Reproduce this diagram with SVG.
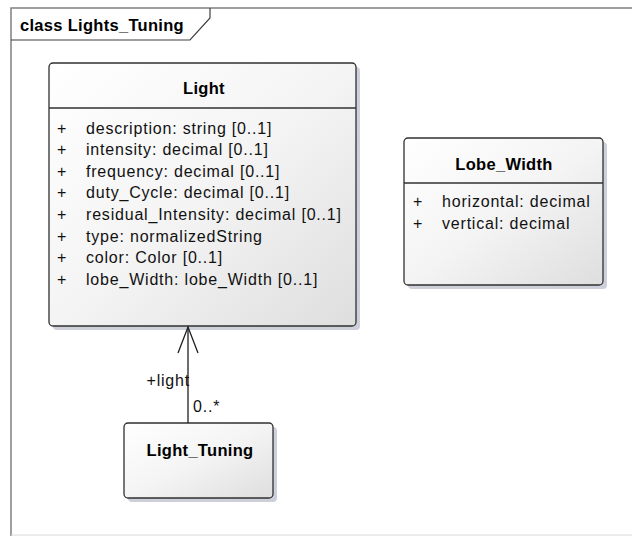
<svg xmlns="http://www.w3.org/2000/svg" width="632" height="536" viewBox="0 0 632 536">
<defs>
<linearGradient id="g" x1="0" y1="0" x2="1" y2="1">
<stop offset="0" stop-color="#ffffff"/>
<stop offset="0.5" stop-color="#f4f4f4"/>
<stop offset="1" stop-color="#dedede"/>
</linearGradient>
<marker id="open" markerWidth="30" markerHeight="24" refX="27" refY="11" orient="auto" markerUnits="userSpaceOnUse">
<path d="M1,1 L27,11 L1,21" fill="none" stroke="#202020" stroke-width="1.3"/>
</marker>
</defs>
<style>
.box{fill:url(#g);stroke:#303030;stroke-width:1.3}
.sh{fill:#b8bccc;opacity:0.7}
.sep{stroke:#303030;stroke-width:1.3}
.t{font-family:"Liberation Sans",Arial,sans-serif;font-size:16.5px;letter-spacing:0.3px;font-weight:bold;fill:#000}
.a{font-family:"Liberation Sans",Arial,sans-serif;font-size:16px;letter-spacing:0.8px;fill:#111}
.frame{fill:none;stroke:#808080;stroke-width:1.5}
</style>
<rect width="632" height="536" fill="#fff"/>
<g id="frame">
<path class="frame" d="M11,536 L11,8 L632,8"/>
<line x1="11" y1="535" x2="632" y2="535" stroke="#d8d8d8" stroke-width="1"/>
<path d="M11,40 L190,40 L210,18 L210,8" fill="none" stroke="#404040" stroke-width="1.2"/>
<text x="20" y="31" class="t">class Lights_Tuning</text>
</g>
<g id="Light">
<rect class="sh" x="53" y="67" width="307" height="263" rx="4"/>
<rect class="box" x="49" y="63" width="307" height="263" rx="4"/>
<line class="sep" x1="49" y1="108" x2="356" y2="108"/>
<text x="204" y="94" class="t" text-anchor="middle">Light</text>
<g class="a">
<text x="57" y="134">+</text><text x="86" y="134">description: string [0..1]</text>
<text x="57" y="155">+</text><text x="86" y="155">intensity: decimal [0..1]</text>
<text x="57" y="177">+</text><text x="86" y="177">frequency: decimal [0..1]</text>
<text x="57" y="198">+</text><text x="86" y="198">duty_Cycle: decimal [0..1]</text>
<text x="57" y="220">+</text><text x="86" y="220">residual_Intensity: decimal [0..1]</text>
<text x="57" y="242">+</text><text x="86" y="242">type: normalizedString</text>
<text x="57" y="263">+</text><text x="86" y="263">color: Color [0..1]</text>
<text x="57" y="285">+</text><text x="86" y="285">lobe_Width: lobe_Width [0..1]</text>
</g>
</g>
<g id="Lobe_Width">
<rect class="sh" x="408" y="142" width="199" height="147" rx="4"/>
<rect class="box" x="404" y="138" width="199" height="147" rx="4"/>
<line class="sep" x1="404" y1="183" x2="603" y2="183"/>
<text x="504" y="170" class="t" text-anchor="middle">Lobe_Width</text>
<g class="a">
<text x="413" y="207">+</text><text x="442" y="207">horizontal: decimal</text>
<text x="413" y="229">+</text><text x="442" y="229">vertical: decimal</text>
</g>
</g>
<g id="Light_Tuning">
<rect class="sh" x="128" y="427" width="149" height="75" rx="4"/>
<rect class="box" x="124" y="423" width="149" height="75" rx="4"/>
<text x="200" y="456" class="t" text-anchor="middle">Light_Tuning</text>
</g>
<g id="connectors">
<line x1="188" y1="423" x2="188" y2="327" stroke="#202020" stroke-width="1.3" marker-end="url(#open)"/>
<text x="190" y="386" class="a" text-anchor="end">+light</text>
<text x="193" y="412" class="a">0..*</text>
</g>
</svg>
